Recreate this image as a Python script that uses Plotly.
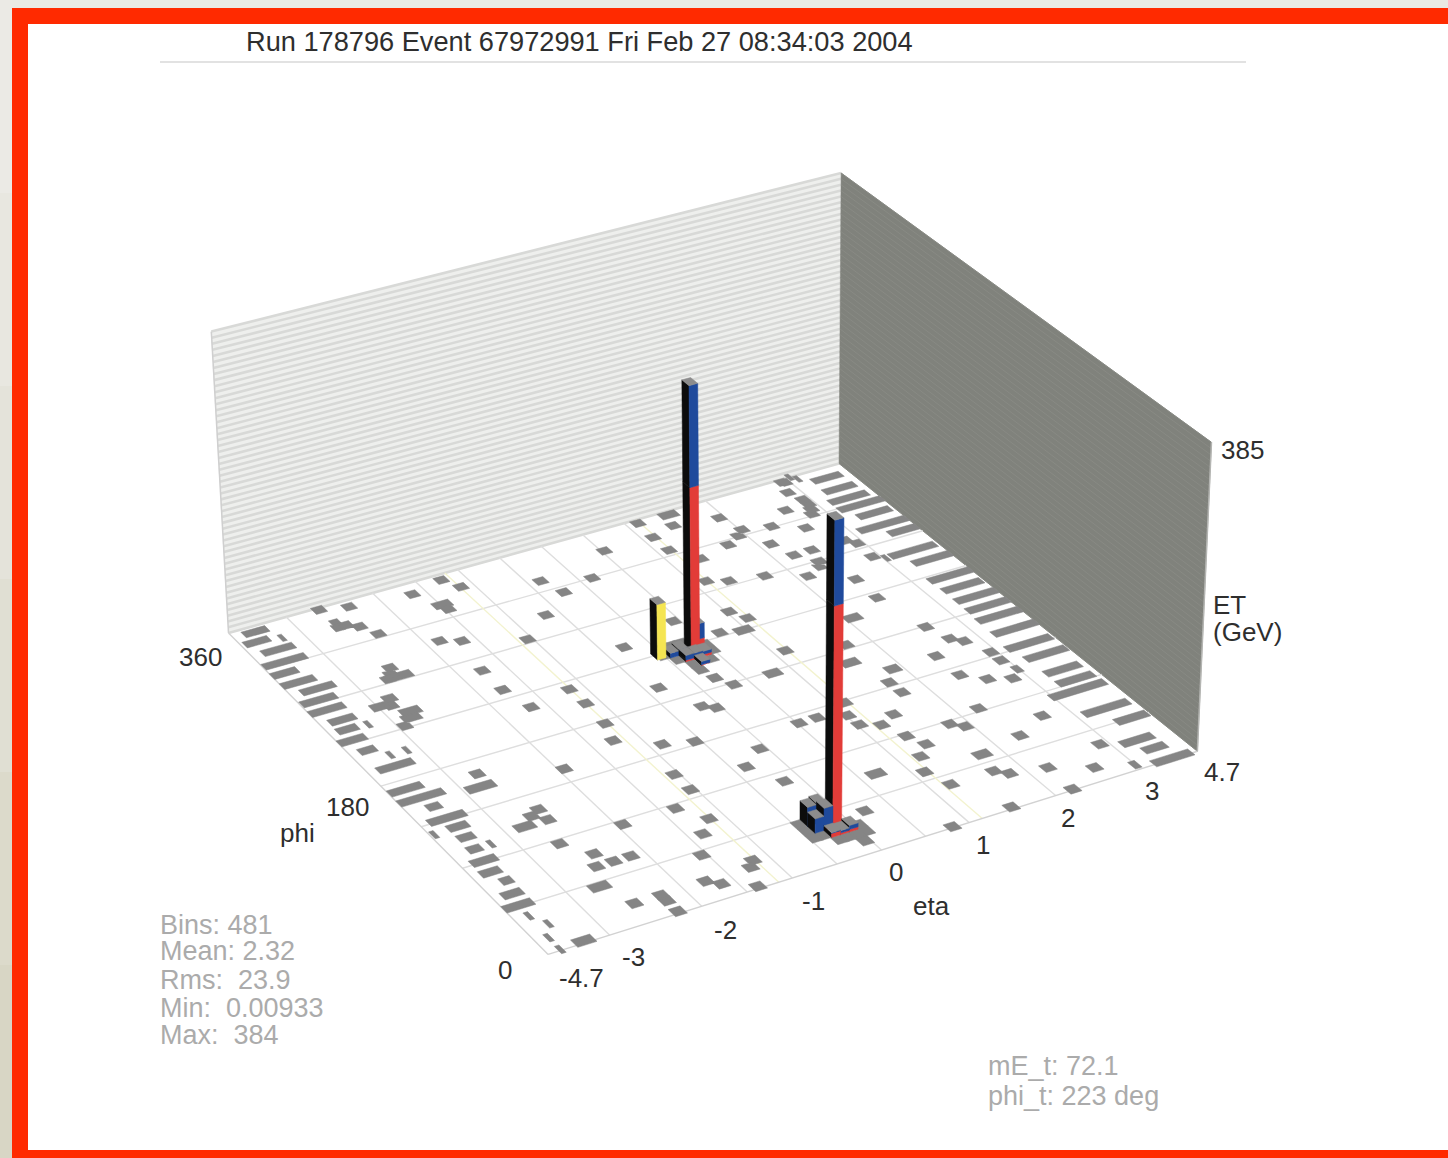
import numpy as np
import plotly.graph_objects as go

# ---------- data ----------
TITLE = "Run 178796 Event 67972991 Fri Feb 27 08:34:03 2004"
ETA_TICKS = [-4.7, -3, -2, -1, 0, 1, 2, 3, 4.7]
PHI_TICKS = [0, 180, 360]
ET_MAX = 385
ETA_GRID = [-3, -2, -1.5, -1, -0.5, 0, 0.5, 1, 2, 3]
ETA_MARK = [-1.15, 1.15]
PHI_GRID = [45, 90, 135, 180, 225, 270, 315]
STATS = ["Bins: 481", "Mean: 2.32", "Rms:  23.9", "Min:  0.00933", "Max:  384"]
MET = ["mE_t: 72.1", "phi_t: 223 deg"]

# single low-energy cells (eta, phi)
cell_eta = [1.13,1.43,1.12,1.13,0.53,0.14,-0.36,-0.26,-1.25,-1.14,-1.65,-2.34,
 -2.64,-0.65,-2.54,-2.43,-2.33,-1.05,-1.85,-1.65,-0.27,0.43,-1.75,-1.75,
 -0.36,-1.16,-1.15,-1.66,-2.93,-3.61,-1.17,-1.26,-0.87,-3.33,-3.80,-1.94,
 -1.05,-2.73,-1.35,-2.52,-2.64,-2.53,-1.94,-2.64,-3.56,-4.59,-2.44,-2.34,
 -2.15,-2.53,-2.53,-2.24,-4.05,-4.30,-4.34,-4.34,-3.58,-1.47,-2.54,-2.59,
 -2.66,-2.87,-2.24,-2.24,
 1.94,2.02,1.92,2.33,2.63,2.64,2.84,2.92,2.92,2.89,3.12,2.96,
 3.27,2.92,2.86,1.73,2.13,2.22,2.44,2.93,2.85,1.33,2.92,3.07,
 2.52,2.12,1.73,1.35,1.14,2.51,1.03,1.13,0.73,1.73,1.13,2.63,
 2.72,2.82,2.41,2.94,2.94,3.01,2.85,2.42,2.62,1.72,1.73,0.23,
 0.33,-0.16,-0.05,0.52,0.73,1.12,1.02,1.03,1.22,1.43,1.82,1.93,
 2.23,2.71,2.31,1.32,1.41,1.24,2.91,1.12,1.72,1.83,2.22,2.62,
 3.02,1.22,2.21,1.51,0.82,0.23,-0.56,-0.07,-0.36,-0.17,-1.05,-1.16,
 -1.35,-1.55,-1.17,-1.25,-1.75,-1.64,-1.36,
 # cells flat around the two jets
 -0.014,0.086,0.186,0.186,0.386,0.486,0.186,0.286,0.486,0.086,
 -0.45,-0.45,-0.35,-0.25,-0.15,-0.05,0.05,-0.05,0.05,-0.45]
cell_phi = [356,344,338,321,338,315,326,309,354,342,348,353,
 358,292,336,331,319,274,296,290,241,252,257,234,
 195,217,200,211,227,238,177,160,144,205,205,148,
 115,166,86,120,116,109,86,86,103,125,69,58,
 58,58,19,2,24,35,13,1,341,324,284,278,
 274,249,19,13,
 339,321,316,316,305,328,317,334,328,322,360,356,
 356,357,345,310,299,282,282,276,282,304,259,254,
 242,258,270,275,281,219,246,235,229,184,195,179,
 162,156,150,139,129,117,110,127,116,139,127,189,
 178,167,162,127,127,133,121,110,104,110,87,81,
 93,70,59,88,76,67,31,53,36,30,25,13,
 5,36,1,2,1,36,138,115,103,81,98,69,
 58,41,24,19,19,13,2,
 222.5,215,207.5,230,207.5,215,200,230,222.5,230,
 34,41.5,26.5,19,19,19,19,11.5,26.5,26.5]

# cells that span several eta bins (eta from, eta to, phi)
wide_eta0 = [1.40,-1.58,-2.66,-2.69,-2.68,-3.19,-2.89,-2.86,-2.90,-2.97,-2.89,-2.78,-3.93,
 2.31,2.27,0.87,1.98,1.48,1.81,0.70,1.70,0.59]
wide_eta1 = [1.61,-1.38,-2.56,-2.58,-2.39,-2.88,-2.75,-2.64,-2.70,-2.66,-2.68,-2.57,-3.40,
 2.45,2.39,1.07,2.17,1.68,1.97,0.88,1.88,0.78]
wide_phi = [356,330,341,336,274,251,256,239,233,154,109,41,2,
 269,264,225,207,167,150,178,53,64]

# long forward cells next to the eta = -4.7 and eta = +4.7 edges
strip_eta0 = [-4.40,-4.61,-4.40,-4.68,-4.75,-4.71,-4.41,-4.67,-4.71,-4.45,-4.48,-4.70,-4.44,-4.44,-4.69,-4.72,-4.18,-4.47,-4.18,-4.18,-4.22,-4.43,-4.46,-4.18,-4.46,-4.70,
 3.54,3.50,3.33,3.33,3.58,3.19,3.82,3.20,3.53,3.40,3.44,3.44,3.43,3.38,3.37,3.26,3.41,3.45,3.45,2.97,3.20,3.70,3.22,3.53,3.40]
strip_eta1 = [-3.70,-3.89,-3.47,-3.44,-3.96,-3.74,-3.44,-3.67,-3.70,-3.71,-3.89,-3.93,-3.97,-3.42,-3.75,-3.42,-3.79,-3.43,-3.61,-3.72,-3.83,-3.72,-3.90,-3.86,-3.90,-3.90,
 4.45,4.48,4.52,4.70,4.60,4.70,4.70,4.62,4.70,4.70,4.64,4.70,4.70,4.70,4.70,4.63,4.66,4.51,4.54,4.58,4.56,4.65,4.17,4.20,4.55]
strip_phi = [354,344,331,318,307,295,284,273,262,249,239,228,215,194,171,160,149,136,126,115,103,91,80,69,57,46,
 349,335,323,313,301,287,276,254,241,220,207,194,182,170,154,137,123,105,93,83,60,45,25,14,1]

# towers: eta, phi, EM energy, hadronic energy
tower_eta = [0.33,-0.15,0.386,0.186,0.286,0.186,0.086,0.386,0.286,-0.25,-0.35,-0.35,-0.25,-0.05,-0.15,-0.25]
tower_phi = [222.5,34,222.5,215,215,222.5,222.5,215,207.5,41.5,41.5,34,34,26.5,26.5,26.5]
tower_em  = [212,275,14,2,3,0,0,3,1,0,0,0,4,3,2,5]
tower_had = [128,103,20,6,5,8,6,4,4,26,24,18,24,5,3,1]
# missing-ET marker
met_eta, met_phi, met_et = -0.05, 224, 72.1

# ---------- view of the lego box ----------
VIEW = [(0,0,0,548,955),(1,0,0,1197,750),(0,1,0,228,632),(1,1,0,840,465),
        (0,1,1,212,332),(1,1,1,840,172),(1,0,1,1212,443)]
M = []
for u,v,w,px,py in VIEW:
    M.append([u,v,w,1,0,0,0,0,-px*u,-px*v,-px*w,-px])
    M.append([0,0,0,0,u,v,w,1,-py*u,-py*v,-py*w,-py])
P = np.linalg.svd(np.array(M,float))[2][-1].reshape(3,4)

def eta_pos(eta):
    return np.interp(eta, [-4.7,-3,3,4.7], [0,.09,.908,1])

def project(eta, phi, et):
    q = P @ np.array([eta_pos(eta), phi/360, et/ET_MAX, 1.0])
    return q[0]/q[2], q[1]/q[2]

def poly(points):
    xy = [project(*p) for p in points]
    xy.append(xy[0])
    return [a for a,_ in xy]+[None], [b for _,b in xy]+[None]

fig = go.Figure()
def fill(polys, color):
    xs,ys = [],[]
    for p in polys:
        a,b = poly(p); xs += a; ys += b
    fig.add_trace(go.Scatter(x=xs,y=ys,mode='lines',fill='toself',fillcolor=color,
                             line=dict(color=color,width=0.5),hoverinfo='skip',showlegend=False))
def lines(segs, color, width):
    xs,ys = [],[]
    for s in segs:
        for p in s:
            a,b = project(*p); xs.append(a); ys.append(b)
        xs.append(None); ys.append(None)
    fig.add_trace(go.Scatter(x=xs,y=ys,mode='lines',line=dict(color=color,width=width),
                             hoverinfo='skip',showlegend=False))

# walls
fill([[(-4.7,360,0),(4.7,360,0),(4.7,360,ET_MAX),(-4.7,360,ET_MAX)]], '#eeefed')
levels = np.linspace(0,ET_MAX,52)
lines([[(-4.7,360,z),(4.7,360,z)] for z in levels], '#d8d9d7', 2.6)
fill([[(4.7,0,0),(4.7,360,0),(4.7,360,ET_MAX),(4.7,0,ET_MAX)]], '#80827c')
lines([[(4.7,0,z),(4.7,360,z)] for z in levels], '#888a84', 1)
lines([[(-4.7,360,0),(-4.7,360,ET_MAX)]], '#cfcfcf', 1.5)
lines([[(4.7,0,0),(4.7,0,ET_MAX)]], '#b4b5b2', 1.5)

# floor grid
lines([[(e,0,0),(e,360,0)] for e in ETA_GRID]+[[(-4.7,p,0),(4.7,p,0)] for p in PHI_GRID], '#dedede', 1.4)
lines([[(e,0,0),(e,360,0)] for e in ETA_MARK], '#f3f3cf', 1.4)
lines([[(-4.7,0,0),(4.7,0,0)],[(-4.7,0,0),(-4.7,360,0)]], '#d2d2d2', 1.4)

# flat cells
CELL = '#858585'
polys = []
for e,p in zip(cell_eta,cell_phi):
    polys.append([(e-.065,p-3.75,0),(e+.065,p-3.75,0),(e+.065,p+3.75,0),(e-.065,p+3.75,0)])
for a,b,p in zip(wide_eta0,wide_eta1,wide_phi):
    polys.append([(a,p-3.75,0),(b,p-3.75,0),(b,p+3.75,0),(a,p+3.75,0)])
for a,b,p in zip(strip_eta0,strip_eta1,strip_phi):
    polys.append([(a,p-3.4,0),(b,p-3.4,0),(b,p+3.4,0),(a,p+3.4,0)])
fill(polys, CELL)

# towers, far ones first
def box(e,p,z0,z1,color):
    a,b = e-.05,e+.05
    c,d = p-3.75,p+3.75
    fill([[(a,c,z0),(a,d,z0),(a,d,z1),(a,c,z1)]], '#0c0c0c')
    fill([[(a,c,z0),(b,c,z0),(b,c,z1),(a,c,z1)]], color)
def cap(e,p,z):
    a,b = e-.05,e+.05
    c,d = p-3.75,p+3.75
    fill([[(a,c,z),(b,c,z),(b,d,z),(a,d,z)]], '#8c8c8c')

stack = [(e,p,em,had,None) for e,p,em,had in zip(tower_eta,tower_phi,tower_em,tower_had)]
stack.append((met_eta,met_phi,met_et,0,'#f5e552'))
stack.sort(key=lambda t:-(eta_pos(t[0])+t[1]/360))
for e,p,em,had,own in stack:
    if em>0: box(e,p,0,em,own or '#e23c38')
    if had>0: box(e,p,em,em+had,'#1f4a9c')
    cap(e,p,em+had)

# ---------- frame ----------
shapes = [dict(type='rect',xref='x',yref='y',x0=0,x1=1448,y0=0,y1=8,fillcolor='#eaeae4',line_width=0,layer='below')]
left = ['#ebeae5','#e8e7e0','#e4e3da','#e0dfd3','#dcdacb','#d8d6c5']
for i,col in enumerate(left):
    shapes.append(dict(type='rect',xref='x',yref='y',x0=0,x1=12,y0=i*193,y1=(i+1)*193,fillcolor=col,line_width=0,layer='below'))
for x0,x1,y0,y1 in [(12,1448,8,24),(12,28,8,1158),(12,1448,1150,1158)]:
    shapes.append(dict(type='rect',xref='x',yref='y',x0=x0,x1=x1,y0=y0,y1=y1,fillcolor='#ff2a00',line_width=0,layer='above'))
shapes.append(dict(type='line',xref='x',yref='y',x0=160,x1=1246,y0=62,y1=62,line=dict(color='#d8d8d8',width=1.5),layer='below'))

# ---------- text ----------
ann = []
def text(s,x,y,color='#2e2e2e',size=26,anchor='center'):
    ann.append(dict(text=s.replace("  ","&nbsp;&nbsp;"),x=x,y=y,xref='x',yref='y',xanchor=anchor,yanchor='middle',showarrow=False,
                    font=dict(family='Liberation Sans',size=size,color=color)))
text(TITLE,244,41,anchor='left',size=27.2)
for t,(x,y) in zip(ETA_TICKS,[(581,978),(633,957),(725,930),(813,901),(896,872),(983,845),(1068,818),(1152,791),(1222,772)]):
    text(str(t),x,y)
for t,(x,y) in zip(PHI_TICKS,[(505,970),(347,807),(200,657)]):
    text(str(t),x,y)
text(str(ET_MAX),1242,450)
text("ET",1211,605,anchor='left'); text("(GeV)",1211,632,anchor='left')
text("phi",297,833); text("eta",931,906)
for s,y in zip(STATS,[925,951,980,1008,1035]):
    text(s,158,y,color='#ababab',anchor='left',size=27)
for s,y in zip(MET,[1066,1096]):
    text(s,986,y,color='#ababab',anchor='left',size=27)

fig.update_layout(width=1448,height=1158,margin=dict(l=0,r=0,t=0,b=0,pad=0),
    paper_bgcolor='white',plot_bgcolor='white',showlegend=False,shapes=shapes,annotations=ann,
    xaxis=dict(range=[0,1448],visible=False,fixedrange=True),
    yaxis=dict(range=[1158,0],visible=False,fixedrange=True))
fig.write_html("out.html", config=dict(displayModeBar=False),
               post_script="document.body.style.margin='0';document.documentElement.style.overflow='hidden';")
